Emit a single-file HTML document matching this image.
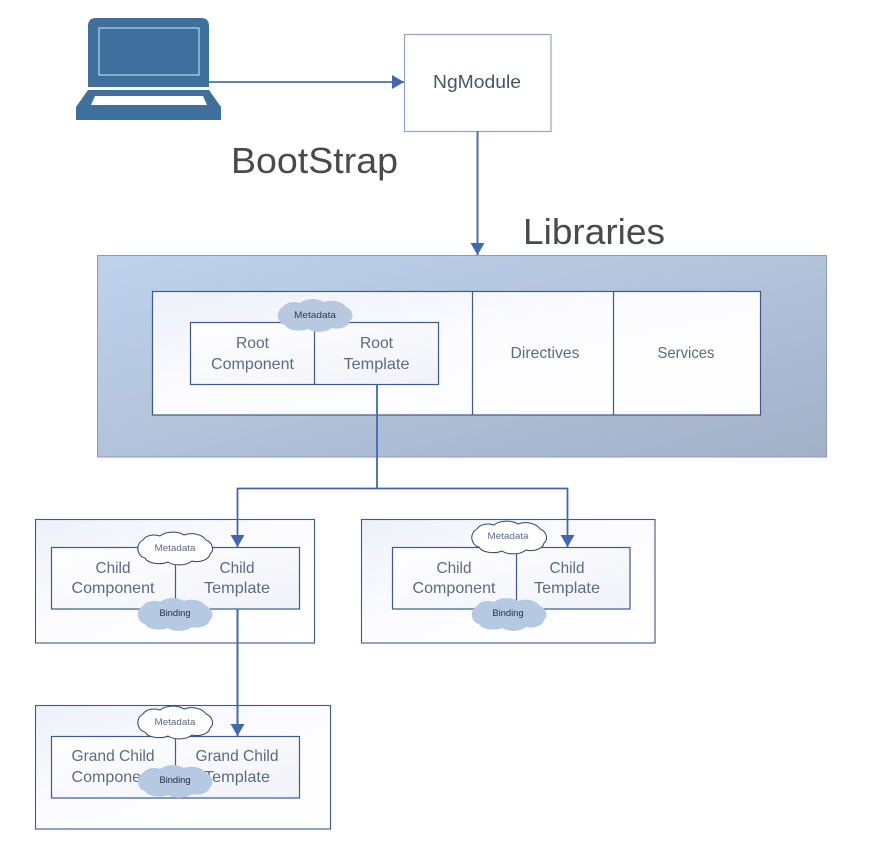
<!DOCTYPE html>
<html><head><meta charset="utf-8"><style>
html,body{margin:0;padding:0;background:#fff}
svg{display:block;filter:blur(.35px)}
text{font-family:"Liberation Sans",sans-serif;text-anchor:middle}
.t{font-size:16px;fill:#5b6b80}
.m{font-size:9px;fill:#2c3e5c}
.b{font-size:9px;fill:#1c2a40}
</style></head><body>
<svg width="872" height="860" viewBox="0 0 872 860" xmlns="http://www.w3.org/2000/svg">
<defs>
<linearGradient id="o" x1="0" y1="0" x2="1" y2="1"><stop offset="0" stop-color="#bdd2ec"/><stop offset=".35" stop-color="#b6c8e0"/><stop offset="1" stop-color="#a2b0c8"/></linearGradient>
<linearGradient id="w" x1="0" y1="0" x2="1" y2="1"><stop offset="0" stop-color="#eef0fa"/><stop offset=".45" stop-color="#fcfcff"/><stop offset="1" stop-color="#fff"/></linearGradient>
<linearGradient id="i" x1="0" y1="0" x2="1" y2="1"><stop offset="0" stop-color="#fff"/><stop offset="1" stop-color="#f1f2f9"/></linearGradient>
<path id="c" d="M7 9C10 4 18 3 24 5C30 0 42 0 48 4C55 1 66 3 70 9C76 11 79 19 74 23C73 29 63 32 56 30C50 35 38 35 32 31C25 34 12 33 9 27C2 26-2 14 7 9Z"/>
<marker id="a" markerUnits="userSpaceOnUse" markerWidth="14" markerHeight="14" refX="12" refY="7" orient="auto"><path d="M0 0L12 7L0 14Z" fill="#4566b0"/></marker>
</defs>

<!-- laptop -->
<path d="M96 18H201Q209 18 209 26V87H88V26Q88 18 96 18Z" fill="#3f6f9c"/>
<rect x="99" y="28" width="100" height="47" fill="none" stroke="#c4f0f6" stroke-width="1"/>
<path d="M88 90H209L221 107V120H76V107Z" fill="#3f6f9c"/>
<path d="M95 96H203L207 105H91Z" fill="#fff"/>

<!-- NgModule -->
<rect x="404.500" y="34.500" width="146.500" height="97" fill="#fff" stroke="#8ea6c8" stroke-width="1.2"/>
<text x="477" y="88" font-size="18" fill="#44566e" textLength="88" lengthAdjust="spacingAndGlyphs">NgModule</text>
<line x1="209" y1="82" x2="404" y2="82" stroke="#4a6fb5" stroke-width="1.8" marker-end="url(#a)"/>
<line x1="477.500" y1="131" x2="477.500" y2="255" stroke="#4a6fb5" stroke-width="2" marker-end="url(#a)"/>

<text x="314.500" y="173" font-size="36" fill="#4a4a4a" textLength="167" lengthAdjust="spacingAndGlyphs">BootStrap</text>
<text x="594" y="244" font-size="36" fill="#4a4a4a" textLength="142" lengthAdjust="spacingAndGlyphs">Libraries</text>

<!-- Libraries panel -->
<rect x="97.500" y="255.500" width="729" height="201.500" fill="url(#o)" stroke="#8d9cb0" stroke-width="1"/>
<rect x="152.500" y="291.500" width="608" height="123.500" fill="url(#w)" stroke="#3d5a8c" stroke-width="1.2"/>
<line x1="472.500" y1="291" x2="472.500" y2="415" stroke="#3d5a8c" stroke-width="1.2"/>
<line x1="613.500" y1="291" x2="613.500" y2="415" stroke="#3d5a8c" stroke-width="1.2"/>
<text class="t" x="545" y="358" textLength="69" lengthAdjust="spacingAndGlyphs">Directives</text>
<text class="t" x="686" y="358" textLength="57" lengthAdjust="spacingAndGlyphs">Services</text>

<rect x="190.500" y="322.500" width="248" height="62" fill="url(#i)" stroke="#3d5a8c" stroke-width="1.2"/>
<line x1="314.500" y1="322" x2="314.500" y2="384" stroke="#3d5a8c" stroke-width="1.2"/>
<text class="t" x="252.500" y="348" textLength="33" lengthAdjust="spacingAndGlyphs">Root</text>
<text class="t" x="252.500" y="369" textLength="83" lengthAdjust="spacingAndGlyphs">Component</text>
<text class="t" x="376.500" y="348" textLength="33" lengthAdjust="spacingAndGlyphs">Root</text>
<text class="t" x="376.500" y="369" textLength="66" lengthAdjust="spacingAndGlyphs">Template</text>
<use href="#c" x="276" y="298" fill="#b8c8de"/>
<text class="m" x="315" y="318" textLength="42" lengthAdjust="spacingAndGlyphs">Metadata</text>

<!-- Child 1 -->
<rect x="35.500" y="519.500" width="279" height="123.500" fill="url(#w)" stroke="#3d5a8c" stroke-width="1.1"/>
<rect x="51.500" y="547.500" width="248" height="61.500" fill="url(#i)" stroke="#3d5a8c" stroke-width="1.2"/>
<line x1="175.500" y1="547" x2="175.500" y2="609" stroke="#3d5a8c" stroke-width="1.2"/>
<text class="t" x="113" y="573" textLength="35" lengthAdjust="spacingAndGlyphs">Child</text>
<text class="t" x="113" y="593" textLength="83" lengthAdjust="spacingAndGlyphs">Component</text>
<text class="t" x="237" y="573" textLength="35" lengthAdjust="spacingAndGlyphs">Child</text>
<text class="t" x="237" y="593" textLength="66" lengthAdjust="spacingAndGlyphs">Template</text>
<use href="#c" x="136" y="531" fill="#fff" stroke="#2f4468" stroke-width="1"/>
<text class="m" x="175" y="551" style="fill:#5b6b85" textLength="41" lengthAdjust="spacingAndGlyphs">Metadata</text>
<use href="#c" x="136" y="597" fill="#b5c9e2"/>
<text class="b" x="175" y="616" textLength="31" lengthAdjust="spacingAndGlyphs">Binding</text>

<!-- Child 2 -->
<rect x="361.500" y="519.500" width="293.500" height="123.500" fill="url(#w)" stroke="#3d5a8c" stroke-width="1.1"/>
<rect x="392.500" y="547.500" width="237.500" height="61.500" fill="url(#i)" stroke="#3d5a8c" stroke-width="1.2"/>
<line x1="516.500" y1="547" x2="516.500" y2="609" stroke="#3d5a8c" stroke-width="1.2"/>
<text class="t" x="454" y="573" textLength="35" lengthAdjust="spacingAndGlyphs">Child</text>
<text class="t" x="454" y="593" textLength="83" lengthAdjust="spacingAndGlyphs">Component</text>
<text class="t" x="567" y="573" textLength="35" lengthAdjust="spacingAndGlyphs">Child</text>
<text class="t" x="567" y="593" textLength="66" lengthAdjust="spacingAndGlyphs">Template</text>
<use href="#c" x="470" y="520" fill="#fff" stroke="#2f4468" stroke-width="1"/>
<text class="m" x="508" y="539" style="fill:#5b6b85" textLength="41" lengthAdjust="spacingAndGlyphs">Metadata</text>
<use href="#c" x="470" y="597" fill="#b5c9e2"/>
<text class="b" x="508" y="616" textLength="31" lengthAdjust="spacingAndGlyphs">Binding</text>

<!-- Grand child -->
<rect x="35.500" y="705.500" width="295" height="123.500" fill="url(#w)" stroke="#3d5a8c" stroke-width="1.1"/>
<rect x="51.500" y="736.500" width="248" height="61.500" fill="url(#i)" stroke="#3d5a8c" stroke-width="1.2"/>
<line x1="175.500" y1="736" x2="175.500" y2="798" stroke="#3d5a8c" stroke-width="1.2"/>
<text class="t" x="113" y="761" textLength="83" lengthAdjust="spacingAndGlyphs">Grand Child</text>
<text class="t" x="113" y="782" textLength="83" lengthAdjust="spacingAndGlyphs">Component</text>
<text class="t" x="237" y="761" textLength="83" lengthAdjust="spacingAndGlyphs">Grand Child</text>
<text class="t" x="237" y="782" textLength="66" lengthAdjust="spacingAndGlyphs">Template</text>
<use href="#c" x="136" y="705" fill="#fff" stroke="#2f4468" stroke-width="1"/>
<text class="m" x="175" y="725" style="fill:#5b6b85" textLength="41" lengthAdjust="spacingAndGlyphs">Metadata</text>
<use href="#c" x="136" y="764" fill="#b5c9e2"/>
<text class="b" x="175" y="783" textLength="31" lengthAdjust="spacingAndGlyphs">Binding</text>

<!-- connectors -->
<path d="M377 384V488.500H237.500V547" fill="none" stroke="#3f69ad" stroke-width="1.8" marker-end="url(#a)"/>
<path d="M377 488.500H567.500V547" fill="none" stroke="#3f69ad" stroke-width="1.8" marker-end="url(#a)"/>
<line x1="237.500" y1="609" x2="237.500" y2="736" stroke="#3f69ad" stroke-width="2" marker-end="url(#a)"/>
</svg>
</body></html>
